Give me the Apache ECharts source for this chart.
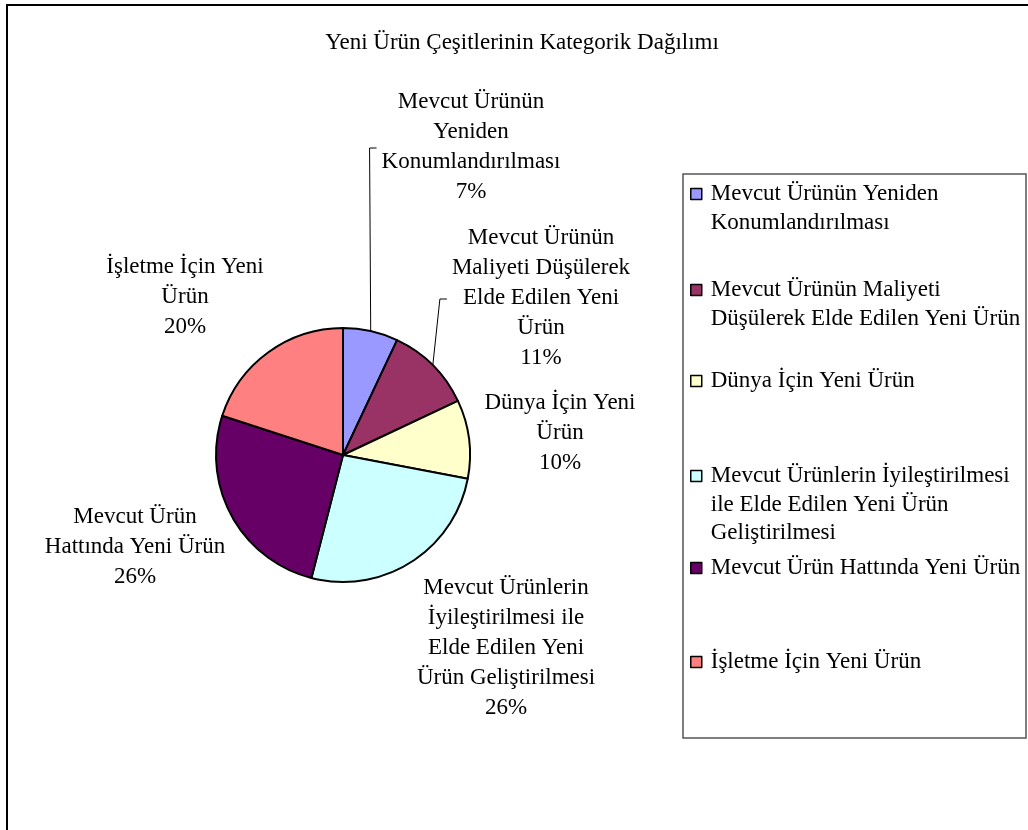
<!DOCTYPE html>
<html>
<head>
<meta charset="utf-8">
<script src="https://cdn.jsdelivr.net/npm/echarts@6/dist/echarts.min.js"></script>
<style>
html,body{margin:0;padding:0;background:#fff;}
#chart{width:1028px;height:830px;}
</style>
</head>
<body>
<div id="chart"></div>
<script>
const titleText = 'Yeni Ürün Çeşitlerinin Kategorik Dağılımı';
const categories = [
  'Mevcut Ürünün Yeniden Konumlandırılması',
  'Mevcut Ürünün Maliyeti Düşülerek Elde Edilen Yeni Ürün',
  'Dünya İçin Yeni Ürün',
  'Mevcut Ürünlerin İyileştirilmesi ile Elde Edilen Yeni Ürün Geliştirilmesi',
  'Mevcut Ürün Hattında Yeni Ürün',
  'İşletme İçin Yeni Ürün'
];
const values = [7, 11, 10, 26, 26, 20];
const pieLabelText = [
  'Mevcut Ürünün\nYeniden\nKonumlandırılması',
  'Mevcut Ürünün\nMaliyeti Düşülerek\nElde Edilen Yeni\nÜrün',
  'Dünya İçin Yeni\nÜrün',
  'Mevcut Ürünlerin\nİyileştirilmesi ile\nElde Edilen Yeni\nÜrün Geliştirilmesi',
  'Mevcut Ürün\nHattında Yeni Ürün',
  'İşletme İçin Yeni\nÜrün'
];
const legendText = [
  'Mevcut Ürünün Yeniden\nKonumlandırılması',
  'Mevcut Ürünün Maliyeti\nDüşülerek Elde Edilen Yeni Ürün',
  'Dünya İçin Yeni Ürün',
  'Mevcut Ürünlerin İyileştirilmesi\nile Elde Edilen Yeni Ürün\nGeliştirilmesi',
  'Mevcut Ürün Hattında Yeni Ürün',
  'İşletme İçin Yeni Ürün'
];
const colors = ['#9999FF', '#993366', '#FFFFCC', '#CCFFFF', '#660066', '#FF8080'];
const showLeader = [true, true, false, false, false, false];

// layout (styling only)
const labelCenters = [[471, 147], [541, 298], [560, 433], [506, 648], [135, 547], [185, 297]];
const legendIconCenters = [194, 290, 381, 476, 568, 662];
const FONT = '"Liberation Serif", "Times New Roman", serif';
const FS = 23;
const LEG_LH = 28.5;

const chart = echarts.init(document.getElementById('chart'), null, {renderer: 'canvas'});

const legends = categories.map((name, i) => {
  const n = legendText[i].split('\n').length;
  const spacer = (n - 1) * LEG_LH;
  return {
    show: true,
    orient: 'vertical',
    left: 690,
    top: legendIconCenters[i] - (2 * n - 1) * LEG_LH / 2,
    padding: 0,
    itemWidth: 11,
    itemHeight: 11,
    icon: 'rect',
    selectedMode: false,
    data: [name],
    itemStyle: {borderColor: '#000', borderWidth: 1.5},
    formatter: () => (n > 1 ? '{sp| }\n' : '') +
      legendText[i].split('\n').map(s => '{t|' + s + '}').join('\n'),
    textStyle: {
      fontFamily: FONT, fontSize: FS, color: '#000',
      lineHeight: LEG_LH,
      rich: {
        sp: {fontSize: 1, height: spacer, lineHeight: spacer},
        t: {fontFamily: FONT, fontSize: FS, color: '#000', lineHeight: LEG_LH, padding: [0, 0, 0, 4]}
      }
    }
  };
});

const option = {
  backgroundColor: '#fff',
  animation: false,
  color: colors,
  title: {
    text: titleText,
    left: 522,
    textAlign: 'center',
    top: 31,
    padding: 0,
    textStyle: {fontFamily: FONT, fontSize: FS, fontWeight: 'normal', color: '#000'}
  },
  legend: legends,
  graphic: [
    {type: 'rect', z: 100, shape: {x: 7, y: 5, width: 1200, height: 1000},
     style: {fill: 'none', stroke: '#000', lineWidth: 2}},
    {type: 'rect', z: 100, shape: {x: 683, y: 174, width: 343, height: 564},
     style: {fill: 'none', stroke: '#555', lineWidth: 1.5}}
  ],
  series: [{
    type: 'pie',
    center: [343, 455],
    radius: 127,
    startAngle: 90,
    clockwise: true,
    avoidLabelOverlap: false,
    itemStyle: {borderColor: '#000', borderWidth: 2},
    label: {
      show: true,
      position: 'outside',
      fontFamily: FONT,
      fontSize: FS,
      lineHeight: 30,
      color: '#000',
      align: 'center',
      formatter: p => pieLabelText[p.dataIndex] + '\n' + Math.round(p.percent) + '%'
    },
    labelLine: {show: true, length: 10, length2: 10, lineStyle: {color: '#000', width: 1}},
    labelLayout: params => {
      const c = labelCenters[params.dataIndex];
      const res = {x: c[0], y: c[1], align: 'center', verticalAlign: 'middle'};
      if (showLeader[params.dataIndex] && params.labelLinePoints) {
        const start = params.labelLinePoints[0];
        const w = params.labelRect.width;
        const endX = c[0] - w / 2 - 5;
        const y = c[1] + 1;
        res.labelLinePoints = [start, [endX - 7, y], [endX, y]];
      }
      return res;
    },
    emphasis: {disabled: true},
    data: categories.map((name, i) => ({
      name: name,
      value: values[i],
      labelLine: {show: showLeader[i]}
    }))
  }]
};
chart.setOption(option);
</script>
</body>
</html>
